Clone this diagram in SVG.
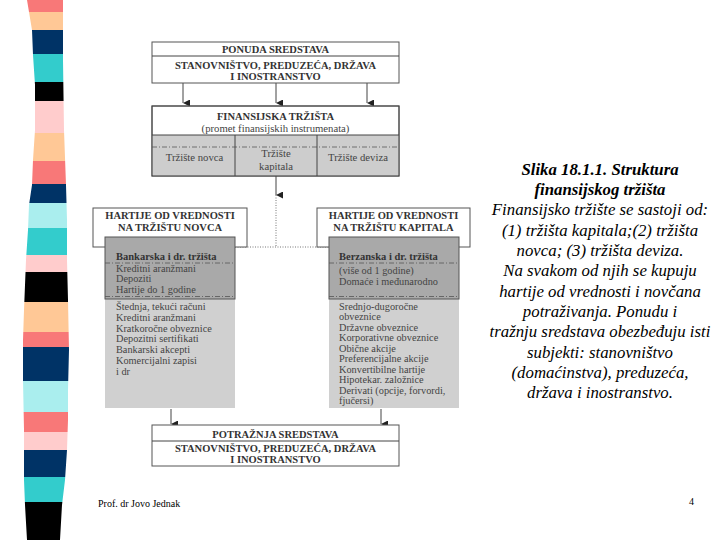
<svg xmlns="http://www.w3.org/2000/svg" width="720" height="540" viewBox="0 0 720 540">
<defs>
<style>
.box{fill:#fff;stroke:#555;stroke-width:1}
.g1{fill:#a9a9a9;stroke:#555;stroke-width:1}
.g2{fill:#d0d0d0;stroke:none}
.ln{stroke:#444;stroke-width:1;fill:none}
.dd{stroke:#555;stroke-width:0.8;stroke-dasharray:5,2,1,2;fill:none}
.dot{stroke:#777;stroke-width:1;stroke-dasharray:1,1.5;fill:none}
.hb{font-family:"Liberation Serif",serif;font-weight:bold;font-size:10.5px;fill:#333;text-anchor:middle}
.t{font-family:"Liberation Serif",serif;font-size:10.3px;fill:#444}
.tc{font-family:"Liberation Serif",serif;font-size:10.7px;fill:#444;text-anchor:middle}
.tb{font-family:"Liberation Serif",serif;font-weight:bold;font-size:10.5px;fill:#333}
.side{font-family:"Liberation Serif",serif;font-style:italic;font-size:16.8px;fill:#000;text-anchor:middle}
.foot{font-family:"Liberation Serif",serif;font-size:10px;fill:#000}
</style>
<clipPath id="stripeClip">
<path d="M27,0 L32,30 L33,55 L35,85 L35,130 L33,160 L32,185 L29,205 L28,230 L26,260 L25,285 L24,310 L23,340 L23,380 L24,430 L24,480 L25,505 L27,540 L60,540 L62,505 L65,480 L67,450 L68,420 L68,390 L69,350 L68,300 L67,260 L67,220 L66,185 L64,130 L63,60 L63,0 Z"/>
</clipPath>
<marker id="ah" viewBox="0 0 10 10" refX="5" refY="10" markerWidth="7" markerHeight="7" orient="auto-start-reverse" markerUnits="userSpaceOnUse">
<path d="M0,0 L10,0 L5,10 Z" fill="#222"/>
</marker>
</defs>
<rect width="720" height="540" fill="#fff"/>

<g id="stripe" clip-path="url(#stripeClip)">
<rect x="0" y="0" width="80" height="12" fill="#f87878"/>
<rect x="0" y="12" width="80" height="18" fill="#ffc896"/>
<rect x="0" y="30" width="80" height="24" fill="#003366"/>
<rect x="0" y="54" width="80" height="28" fill="#33cccc"/>
<rect x="0" y="82" width="80" height="19" fill="#000"/>
<rect x="0" y="101" width="80" height="32" fill="#ffcccc"/>
<rect x="0" y="133" width="80" height="28" fill="#ffc896"/>
<rect x="0" y="161" width="80" height="23" fill="#f87878"/>
<rect x="0" y="184" width="80" height="19" fill="#003366"/>
<rect x="0" y="203" width="80" height="25" fill="#aaeeee"/>
<rect x="0" y="228" width="80" height="27" fill="#33cccc"/>
<rect x="0" y="255" width="80" height="17" fill="#ffcccc"/>
<rect x="0" y="272" width="80" height="30" fill="#000"/>
<rect x="0" y="302" width="80" height="30" fill="#ffc896"/>
<rect x="0" y="332" width="80" height="15" fill="#f87878"/>
<rect x="0" y="347" width="80" height="34" fill="#003366"/>
<rect x="0" y="381" width="80" height="31" fill="#aaeeee"/>
<rect x="0" y="412" width="80" height="20" fill="#f87878"/>
<rect x="0" y="432" width="80" height="18" fill="#ffcccc"/>
<rect x="0" y="450" width="80" height="27" fill="#003366"/>
<rect x="0" y="477" width="80" height="25" fill="#33cccc"/>
<rect x="0" y="502" width="80" height="38" fill="#000"/>
</g>

<g id="connectors">
<line class="ln" x1="183" y1="83" x2="183" y2="103" marker-end="url(#ah)"/>
<line class="ln" x1="276" y1="83" x2="276" y2="103" marker-end="url(#ah)"/>
<line class="ln" x1="367" y1="83" x2="367" y2="103" marker-end="url(#ah)"/>
<line class="ln" x1="276" y1="176" x2="276" y2="195" marker-end="url(#ah)"/>
<line class="dot" x1="276" y1="195" x2="276" y2="247"/>
<line class="dot" x1="235" y1="247" x2="329" y2="247"/>
<line class="ln" x1="171" y1="409" x2="171" y2="424" marker-end="url(#ah)"/>
<line class="ln" x1="381" y1="409" x2="381" y2="424" marker-end="url(#ah)"/>
</g>

<g id="ponuda">
<rect class="box" x="152" y="42" width="247" height="41"/>
<line class="ln" x1="152" y1="56" x2="399" y2="56"/>
<text class="hb" x="275.5" y="53">PONUDA SREDSTAVA</text>
<text class="hb" x="275.5" y="69">STANOVNIŠTVO, PREDUZEĆA, DRŽAVA</text>
<text class="hb" x="275.5" y="79.5">I INOSTRANSTVO</text>
</g>

<g id="finansijska">
<rect class="box" x="152" y="106" width="247" height="70"/>
<rect x="152.5" y="135" width="246" height="40.5" fill="#cdcdcd"/>
<rect class="ln" x="152" y="106" width="247" height="70"/>
<line class="ln" x1="152" y1="135" x2="399" y2="135"/>
<line class="dd" x1="152" y1="147" x2="399" y2="147"/>
<line class="ln" x1="235" y1="135" x2="235" y2="176"/>
<line class="ln" x1="317" y1="135" x2="317" y2="176"/>
<text class="hb" x="275.5" y="120">FINANSIJSKA TRŽIŠTA</text>
<text class="tc" x="275.5" y="131.5">(promet finansijskih instrumenata)</text>
<text class="tc" x="194.5" y="161">Tržište novca</text>
<text class="tc" x="276" y="157">Tržište</text>
<text class="tc" x="276" y="169.5">kapitala</text>
<text class="tc" x="358" y="161">Tržište deviza</text>
</g>

<g id="hartije-novca">
<rect class="box" x="93" y="208" width="154" height="39"/>
<text class="hb" x="170" y="219">HARTIJE OD VREDNOSTI</text>
<text class="hb" x="170" y="231">NA TRŽIŠTU NOVCA</text>
<rect class="g2" x="105" y="237" width="130" height="171"/>
<rect class="g1" x="105" y="237" width="130" height="62"/>
<line class="dd" x1="105" y1="263" x2="235" y2="263"/>
<line class="dd" x1="105" y1="296.5" x2="235" y2="296.5"/>
<text class="tb" x="116" y="259.5">Bankarska i dr. tržišta</text>
<text class="t" x="116" y="271.5">Kreditni aranžmani</text>
<text class="t" x="116" y="282">Depoziti</text>
<text class="t" x="116" y="292.5">Hartije do 1 godine</text>
<text class="t" x="116" y="310">Štednja, tekući računi</text>
<text class="t" x="116" y="320.8">Kreditni aranžmani</text>
<text class="t" x="116" y="331.6">Kratkoročne obveznice</text>
<text class="t" x="116" y="342.4">Depozitni sertifikati</text>
<text class="t" x="116" y="353.2">Bankarski akcepti</text>
<text class="t" x="116" y="364">Komercijalni zapisi</text>
<text class="t" x="116" y="374.8">i dr</text>
</g>

<g id="hartije-kapitala">
<rect class="box" x="317" y="208" width="153" height="39"/>
<text class="hb" x="393.5" y="219">HARTIJE OD VREDNOSTI</text>
<text class="hb" x="393.5" y="231">NA TRŽIŠTU KAPITALA</text>
<rect class="g2" x="329" y="237" width="130" height="171"/>
<rect class="g1" x="329" y="237" width="130" height="62"/>
<line class="dd" x1="329" y1="263" x2="459" y2="263"/>
<line class="dd" x1="329" y1="296.5" x2="459" y2="296.5"/>
<text class="tb" x="339" y="259.5">Berzanska i dr. tržišta</text>
<text class="t" x="339" y="274">(više od 1 godine)</text>
<text class="t" x="339" y="285">Domaće i međunarodno</text>
<text class="t" x="339" y="309.5">Srednjo-dugoročne</text>
<text class="t" x="339" y="320">obveznice</text>
<text class="t" x="339" y="330.5">Državne obveznice</text>
<text class="t" x="339" y="341">Korporativne obveznice</text>
<text class="t" x="339" y="351.5">Obične akcije</text>
<text class="t" x="339" y="362">Preferencijalne akcije</text>
<text class="t" x="339" y="372.5">Konvertibilne hartije</text>
<text class="t" x="339" y="383">Hipotekar. založnice</text>
<text class="t" x="339" y="393.5">Derivati (opcije, forvordi,</text>
<text class="t" x="339" y="404">fjučersi)</text>
</g>

<g id="potraznja">
<rect class="box" x="152" y="425" width="247" height="41"/>
<line class="ln" x1="152" y1="441" x2="399" y2="441"/>
<text class="hb" x="275.5" y="438">POTRAŽNJA SREDSTAVA</text>
<text class="hb" x="275.5" y="452">STANOVNIŠTVO, PREDUZEĆA, DRŽAVA</text>
<text class="hb" x="275.5" y="462.5">I INOSTRANSTVO</text>
</g>

<g id="caption">
<text class="side" x="600" y="175" font-weight="bold">Slika 18.1.1. Struktura</text>
<text class="side" x="600" y="195" font-weight="bold">finansijskog tržišta</text>
<text class="side" x="600" y="215">Finansijsko tržište se sastoji od:</text>
<text class="side" x="600" y="235.5">(1) tržišta kapitala;(2) tržišta</text>
<text class="side" x="600" y="256">novca; (3) tržišta deviza.</text>
<text class="side" x="600" y="276">Na svakom od njih se kupuju</text>
<text class="side" x="600" y="296.5">hartije od vrednosti i novčana</text>
<text class="side" x="600" y="317">potraživanja. Ponudu i</text>
<text class="side" x="600" y="337">tražnju sredstava obezbeđuju isti</text>
<text class="side" x="600" y="357.5">subjekti: stanovništvo</text>
<text class="side" x="600" y="378">(domaćinstva), preduzeća,</text>
<text class="side" x="600" y="398">država i inostranstvo.</text>
</g>

<g id="footer">
<text class="foot" x="98" y="507">Prof. dr Jovo Jednak</text>
<text class="foot" x="689" y="505">4</text>
</g>
</svg>
